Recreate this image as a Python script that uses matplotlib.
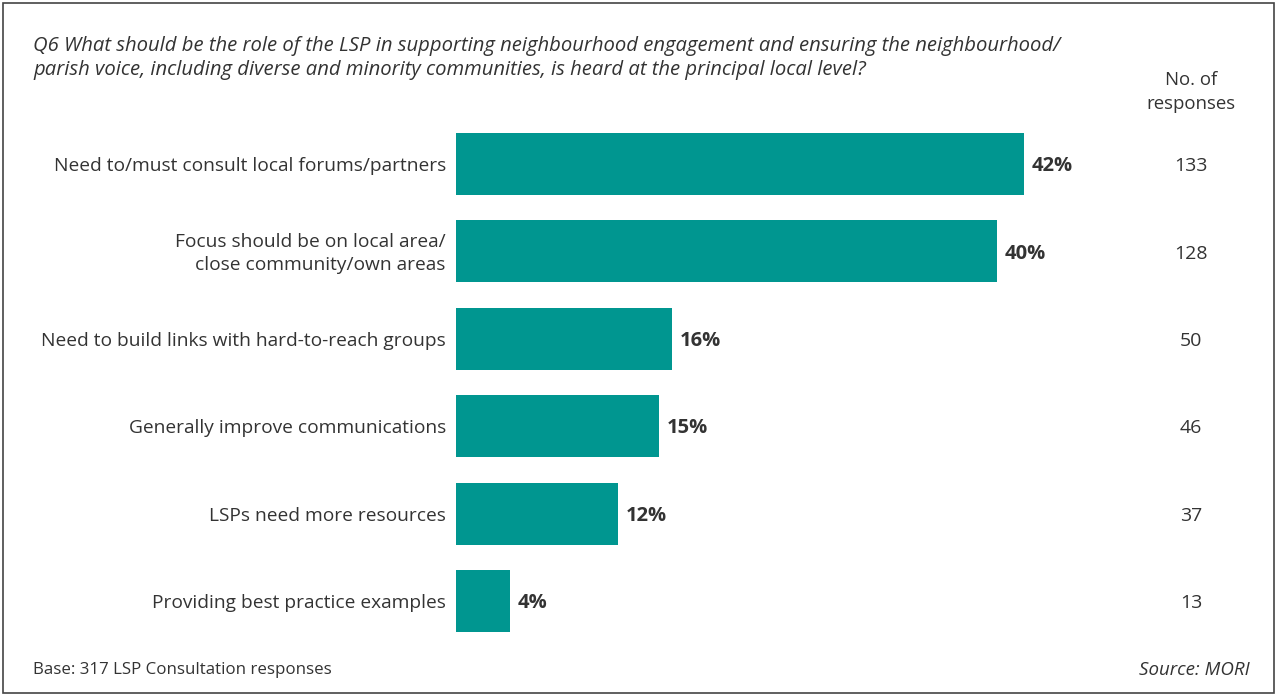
import matplotlib.pyplot as plt
from matplotlib.patches import Rectangle
from matplotlib.transforms import blended_transform_factory

# --- Data ---
categories = [
    "Need to/must consult local forums/partners",
    "Focus should be on local area/\nclose community/own areas",
    "Need to build links with hard-to-reach groups",
    "Generally improve communications",
    "LSPs need more resources",
    "Providing best practice examples",
]
percentages = [42, 40, 16, 15, 12, 4]
responses = [133, 128, 50, 46, 37, 13]

title = ("Q6 What should be the role of the LSP in supporting neighbourhood engagement and ensuring the neighbourhood/\n"
         "parish voice, including diverse and minority communities, is heard at the principal local level?")
base_note = "Base: 317 LSP Consultation responses"
source_note = "Source: MORI"

BAR_COLOR = "#009690"
TEXT_COLOR = "#333333"
W, H = 1278, 695

plt.rcParams['font.family'] = ['Open Sans', 'DejaVu Sans']

fig = plt.figure(figsize=(W / 100, H / 100), dpi=100)

# outer frame
fig.patches.append(Rectangle((3 / W, 2 / H), 1271 / W, 690 / H, transform=fig.transFigure,
                             fill=False, edgecolor="#444444", linewidth=1.2))

# axes spans 0..42% between x=456 and x=1024 px; rows centred 164..601 px
ax_left, ax_right = 456 / W, 1024 / W
row_top, row_bottom = 120.3, 644.7
ax = fig.add_axes([ax_left, 1 - row_bottom / H, ax_right - ax_left, (row_bottom - row_top) / H])
ypos = list(range(len(categories)))
ax.barh(ypos, percentages, height=0.71, color=BAR_COLOR, left=0)
ax.set_xlim(0, max(percentages))
ax.set_ylim(len(categories) - 0.5, -0.5)
ax.axis("off")

dy = 0.025  # small nudge so text sits on the bar centre
tr = blended_transform_factory(fig.transFigure, ax.transData)
for y, cat, pct, n in zip(ypos, categories, percentages, responses):
    ax.text(-0.75, y + dy, cat, ha="right", va="center", fontsize=13.8, color=TEXT_COLOR,
            linespacing=1.32)
    ax.text(pct + 0.55, y + dy, f"{pct}%", ha="left", va="center", fontsize=14.5,
            fontweight="bold", color=TEXT_COLOR)
    ax.text(1191 / W, y + dy, str(n), ha="center", va="center", fontsize=14,
            color=TEXT_COLOR, transform=tr)

fig.text(1191 / W, 1 - 92 / H, "No. of\nresponses", ha="center", va="center",
         fontsize=13.4, color=TEXT_COLOR, linespacing=1.4)
fig.text(33 / W, 1 - 58 / H, title, ha="left", va="center", fontsize=14.6,
         style="italic", color=TEXT_COLOR, linespacing=1.3)
fig.text(33 / W, 1 - 670 / H, base_note, ha="left", va="center", fontsize=12.2,
         color=TEXT_COLOR)
fig.text(1250 / W, 1 - 670 / H, source_note, ha="right", va="center", fontsize=13.5,
         style="italic", color=TEXT_COLOR)

fig.savefig("out.png", dpi=100)
